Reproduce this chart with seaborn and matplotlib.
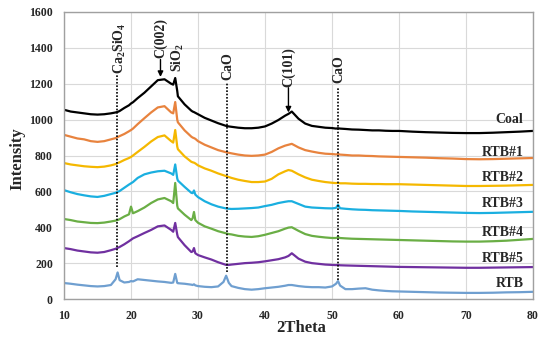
import matplotlib
matplotlib.use("Agg")
import matplotlib.pyplot as plt
import pandas as pd
import seaborn as sns

# ---------------- data ----------------
two_theta = [10, 11, 12, 13, 14, 15, 16, 17, 17.7, 18, 18.3, 19, 19.7, 20, 20.3, 21,
             22, 23, 24, 25, 26, 26.3, 26.6, 26.9, 27, 28, 29, 29.2, 29.4, 29.6,
             30, 31, 32, 33, 33.8, 34.2, 34.6, 35, 36, 37, 38, 39, 40, 41, 42, 43,
             43.5, 44, 45, 46, 47, 48, 49, 50, 50.6, 50.9, 51.2, 52, 53, 54, 55, 56,
             57, 58, 59, 60, 62, 64, 66, 68, 70, 72, 74, 76, 78, 80]

coal = [1055, 1045, 1040, 1035, 1030, 1028, 1030, 1035, 1040, 1043, 1048, 1065, 1080, 1090, 1097, 1120,
        1150, 1185, 1220, 1225, 1200, 1195, 1232, 1160, 1130, 1085, 1050, 1045, 1042, 1038,
        1030, 1010, 995, 980, 970, 965, 962, 960, 955, 952, 952, 955, 962, 978, 998, 1022,
        1032, 1045, 1005, 978, 965, 960, 955, 953, 950, 952, 950, 948, 945, 944, 942, 940,
        940, 938, 937, 937, 933, 930, 928, 926, 925, 925, 927, 930, 933, 937]

rtb1 = [915, 905, 895, 890, 880, 876, 880, 890, 897, 903, 908, 920, 935, 942, 950, 975,
        1008, 1040, 1068, 1075, 1040, 1035, 1098, 1000, 985, 940, 905, 900, 897, 893,
        880, 860, 845, 830, 822, 818, 815, 812, 805, 800, 798, 800, 805, 820, 840, 855,
        860, 865, 845, 830, 822, 815, 810, 808, 806, 808, 805, 803, 800, 800, 798, 797,
        795, 794, 793, 792, 790, 788, 785, 783, 780, 779, 780, 782, 784, 786]

rtb2 = [758, 750, 745, 740, 737, 735, 738, 745, 752, 758, 762, 775, 786, 792, 800, 820,
        848, 878, 903, 912, 880, 872, 942, 850, 835, 795, 765, 762, 760, 756,
        745, 728, 715, 700, 690, 685, 680, 675, 665, 658, 652, 652, 655, 670, 695, 712,
        719, 715, 695, 678, 665, 658, 652, 648, 646, 648, 645, 645, 643, 642, 642, 641,
        641, 640, 640, 640, 638, 636, 634, 632, 630, 630, 631, 632, 634, 636]

rtb3 = [607, 595, 585, 578, 572, 569, 575, 585, 592, 597, 602, 620, 638, 645, 652, 675,
        695, 705, 712, 715, 700, 692, 750, 672, 660, 625, 592, 590, 605, 582,
        568, 545, 528, 515, 508, 505, 503, 502, 503, 505, 507, 510, 518, 525, 535, 542,
        545, 545, 530, 515, 510, 508, 506, 505, 508, 525, 506, 503, 500, 498, 497, 495,
        494, 493, 492, 491, 488, 486, 484, 482, 480, 479, 480, 482, 484, 486]

rtb4 = [446, 440, 432, 428, 424, 423, 426, 432, 437, 440, 445, 460, 472, 515, 478, 490,
        510, 535, 555, 563, 545, 535, 647, 520, 505, 470, 440, 450, 485, 440,
        425, 405, 392, 378, 370, 366, 362, 360, 352, 348, 346, 350, 358, 368, 378, 392,
        398, 400, 380, 362, 352, 347, 343, 340, 340, 345, 340, 338, 336, 335, 334, 333,
        332, 331, 330, 329, 327, 325, 323, 321, 320, 320, 322, 325, 330, 335]

rtb5 = [284, 278, 270, 265, 260, 258, 262, 272, 280, 285, 290, 305, 322, 330, 338, 350,
        368, 385, 405, 410, 385, 375, 424, 360, 345, 300, 262, 265, 284, 255,
        245, 232, 220, 205, 195, 190, 190, 192, 196, 200, 202, 205, 210, 216, 222, 232,
        240, 255, 225, 208, 200, 196, 192, 190, 189, 190, 188, 187, 186, 185, 184, 183,
        182, 181, 180, 179, 178, 177, 176, 175, 174, 174, 175, 176, 177, 178]

rtb = [89, 85, 80, 76, 72, 70, 72, 78, 110, 148, 105, 92, 95, 100, 98, 110,
       106, 102, 98, 95, 90, 92, 140, 90, 88, 85, 80, 78, 82, 76,
       72, 68, 66, 70, 95, 130, 90, 72, 62, 55, 52, 55, 60, 64, 68, 74,
       78, 78, 72, 68, 66, 66, 64, 70, 85, 100, 75, 55, 55, 58, 60, 52,
       48, 45, 43, 42, 40, 38, 36, 35, 34, 34, 35, 37, 38, 40]

series_names = ["Coal", "RTB#1", "RTB#2", "RTB#3", "RTB#4", "RTB#5", "RTB"]
series_values = [coal, rtb1, rtb2, rtb3, rtb4, rtb5, rtb]
series_colors = ["#000000", "#E8833E", "#F5B800", "#1AAFE0", "#6AAE45", "#7030A0", "#6F9FD0"]
name_label_y = [1000, 814, 680, 535, 373, 223, 89]

# dotted reference lines (phase positions)
phase_x = [17.9, 34.3, 50.9]
phase_line_bottom = [180, 150, 105]
phase_line_top = [1249, 1204, 1176]
phase_labels = ["Ca$_2$SiO$_4$", "CaO", "CaO"]
phase_label_x = [18.3, 34.5, 51.0]
phase_label_y = [1252, 1220, 1205]

# arrow annotations
arrow_labels = ["C(002)", "C(101)"]
arrow_x = [24.4, 43.5]
arrow_from = [1335, 1178]
arrow_to = [1238, 1040]
arrow_label_y = [1345, 1182]

# plain label (no line)
plain_label = "SiO$_2$"
plain_label_x = 27.0
plain_label_y = 1265

for vals in series_values:
    assert len(vals) == len(two_theta)

df = pd.concat(
    [pd.DataFrame({"2Theta": two_theta, "Intensity": v, "Sample": n})
     for n, v in zip(series_names, series_values)],
    ignore_index=True,
)

# ---------------- style ----------------
sns.set_theme(style="whitegrid")
plt.rcParams["font.family"] = ["Liberation Serif", "DejaVu Serif"]
plt.rcParams["font.weight"] = "bold"
plt.rcParams["mathtext.fontset"] = "custom"
plt.rcParams["mathtext.rm"] = "Liberation Serif:bold"
plt.rcParams["mathtext.bf"] = "Liberation Serif:bold"
plt.rcParams["mathtext.default"] = "bf"

fig = plt.figure(figsize=(5.5, 3.39), dpi=100)
ax = fig.add_axes([64 / 550, 1 - 299 / 339, 469 / 550, 287 / 339])

sns.lineplot(data=df, x="2Theta", y="Intensity", hue="Sample",
             palette=dict(zip(series_names, series_colors)),
             hue_order=series_names, estimator=None, sort=False,
             legend=False, linewidth=1.6, ax=ax)

ax.set_xlim(10, 80)
ax.set_ylim(0, 1600)
ax.set_xticks(range(10, 81, 10))
ax.set_yticks(range(0, 1601, 200))
ax.grid(True, color="#D9D9D9", linewidth=0.8)
for s in ax.spines.values():
    s.set_color("#A0A0A0")
    s.set_linewidth(1.0)
ax.tick_params(axis="both", length=0, labelsize=8.5, pad=8)
for lab in ax.get_xticklabels() + ax.get_yticklabels():
    lab.set_fontweight("bold")

ax.set_xlabel("2Theta", fontsize=12, fontweight="bold")
ax.set_ylabel("Intensity", fontsize=12, fontweight="bold")
ax.xaxis.set_label_coords(0.505, -0.072)
ax.yaxis.set_label_coords(-0.083, 0.49)

# dotted phase lines and labels
for x, y0, y1 in zip(phase_x, phase_line_bottom, phase_line_top):
    ax.plot([x, x], [y0, y1], linestyle=(0, (1, 1)), color="black", linewidth=1.2)
for x, y, t in zip(phase_label_x, phase_label_y, phase_labels):
    ax.text(x, y, t, rotation=90, ha="center", va="bottom", fontsize=10, fontweight="bold")

# arrow annotations
for t, x, yf, yt, yl in zip(arrow_labels, arrow_x, arrow_from, arrow_to, arrow_label_y):
    ax.annotate("", xy=(x, yt), xytext=(x, yf),
                arrowprops=dict(arrowstyle="-|>", color="black", lw=1.0,
                                mutation_scale=8, shrinkA=0, shrinkB=0))
    ax.text(x, yl, t, rotation=90, ha="center", va="bottom", fontsize=10, fontweight="bold")

ax.text(plain_label_x, plain_label_y, plain_label, rotation=90, ha="center", va="bottom",
        fontsize=10, fontweight="bold")

# sample names on the right
for n, y in zip(series_names, name_label_y):
    ax.text(78.6, y, n, ha="right", va="center", fontsize=10, fontweight="bold")

fig.savefig("out.png", dpi=100)
